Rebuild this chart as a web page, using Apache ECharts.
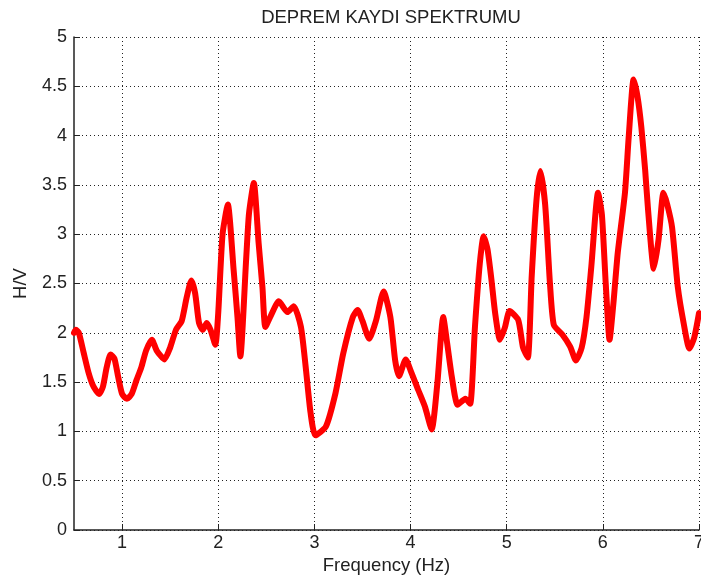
<!DOCTYPE html>
<html>
<head>
<meta charset="utf-8">
<title>DEPREM KAYDI SPEKTRUMU</title>
<script src="https://cdn.jsdelivr.net/npm/echarts@6/dist/echarts.min.js"></script>
<style>
  html, body { margin: 0; padding: 0; background: #fff; }
  #chart { width: 701px; height: 587px; }
</style>
</head>
<body>
<div id="chart"></div>
<script>
// H/V spectral ratio of the earthquake record
const frequency = [
  0.50, 0.52, 0.55, 0.60, 0.65, 0.70, 0.76, 0.80, 0.84, 0.88,
  0.92, 0.96, 1.00, 1.05, 1.10, 1.15, 1.20, 1.25, 1.31, 1.36,
  1.44, 1.50, 1.56, 1.62, 1.67, 1.72, 1.76, 1.80, 1.84, 1.88,
  1.92, 1.97, 2.00, 2.045, 2.10, 2.16, 2.20, 2.23, 2.29, 2.32,
  2.37, 2.42, 2.46, 2.49, 2.55, 2.63, 2.72, 2.785, 2.86, 2.91,
  2.96, 3.01, 3.12, 3.22, 3.30, 3.40, 3.45, 3.50, 3.57, 3.64,
  3.72, 3.79, 3.84, 3.88, 3.95, 4.00, 4.08, 4.15, 4.22, 4.28,
  4.34, 4.38, 4.43, 4.49, 4.57, 4.62, 4.67, 4.72, 4.76, 4.80,
  4.84, 4.88, 4.93, 4.98, 5.03, 5.12, 5.17, 5.22, 5.26, 5.31,
  5.35, 5.40, 5.45, 5.49, 5.58, 5.66, 5.72, 5.78, 5.83, 5.88,
  5.95, 5.99, 6.03, 6.07, 6.11, 6.155, 6.23, 6.27, 6.32, 6.36,
  6.40, 6.44, 6.47, 6.53, 6.58, 6.63, 6.67, 6.72, 6.78, 6.84,
  6.90, 6.95, 7.00
];
const hvRatio = [
  2.00, 2.03, 2.00, 1.80, 1.60, 1.46, 1.38, 1.45, 1.65, 1.78,
  1.74, 1.55, 1.38, 1.33, 1.38, 1.52, 1.65, 1.82, 1.93, 1.82,
  1.73, 1.85, 2.03, 2.12, 2.35, 2.53, 2.40, 2.10, 2.03, 2.10,
  2.03, 1.88, 2.20, 3.00, 3.30, 2.64, 2.16, 1.76, 2.74, 3.21,
  3.52, 2.91, 2.46, 2.06, 2.18, 2.32, 2.21, 2.27, 2.06, 1.65,
  1.19, 0.96, 1.05, 1.39, 1.79, 2.16, 2.23, 2.12, 1.94, 2.12,
  2.42, 2.16, 1.72, 1.56, 1.73, 1.62, 1.42, 1.25, 1.02, 1.50,
  2.16, 1.90, 1.55, 1.27, 1.33, 1.28, 2.06, 2.70, 2.98, 2.85,
  2.55, 2.20, 1.93, 2.05, 2.22, 2.13, 1.85, 1.75, 2.57, 3.35,
  3.64, 3.30, 2.50, 2.08, 1.98, 1.86, 1.72, 1.85, 2.16, 2.67,
  3.42, 3.20, 2.50, 1.93, 2.30, 2.81, 3.42, 4.00, 4.57, 4.40,
  4.09, 3.65, 3.25, 2.65, 2.95, 3.42, 3.30, 3.07, 2.46, 2.10,
  1.84, 1.95, 2.20
];
const xTicks = [1, 2, 3, 4, 5, 6, 7];

const chart = echarts.init(document.getElementById('chart'), null, { renderer: 'canvas' });
const font = 'Liberation Sans, Arial, sans-serif';
const gridDots = { show: true, lineStyle: { color: '#222', width: 1, type: [1, 3] } };

chart.setOption({
  animation: false,
  backgroundColor: '#fff',
  title: {
    text: 'DEPREM KAYDI SPEKTRUMU',
    left: 386, top: 3, textAlign: 'center',
    textStyle: { fontFamily: font, fontSize: 18.5, fontWeight: 'normal', color: '#222' }
  },
  grid: { left: 74, right: 2, top: 37, bottom: 57, containLabel: false, outerBoundsMode: 'none' },
  xAxis: {
    type: 'value', min: 0.5, max: 7,
    name: 'Frequency (Hz)', nameLocation: 'middle', nameGap: 15,
    nameTextStyle: { fontFamily: font, fontSize: 18.5, color: '#222' },
    axisLine: { show: true, onZero: false, lineStyle: { color: '#222', width: 1.5 } },
    axisTick: { show: true, inside: true, length: 6, customValues: xTicks, lineStyle: { color: '#222' } },
    axisLabel: { customValues: xTicks, margin: 4, fontFamily: font, fontSize: 18, color: '#222' },
    splitLine: gridDots
  },
  yAxis: {
    type: 'value', min: 0, max: 5, interval: 0.5,
    name: 'H/V', nameLocation: 'middle', nameGap: 44, nameRotate: 90,
    nameTextStyle: { fontFamily: font, fontSize: 18.5, color: '#222' },
    axisLine: { show: true, lineStyle: { color: '#222', width: 1.5 } },
    axisTick: { show: true, inside: true, length: 6, lineStyle: { color: '#222' } },
    axisLabel: { margin: 7, fontFamily: font, fontSize: 18, color: '#222' },
    splitLine: gridDots
  },
  series: [{
    type: 'line',
    data: frequency.map((f, i) => [f, hvRatio[i]]),
    showSymbol: false,
    smooth: 0.2,
    lineStyle: { color: '#ff0000', width: 6, join: 'round', cap: 'round' },
    clip: true
  }]
});
</script>
</body>
</html>
